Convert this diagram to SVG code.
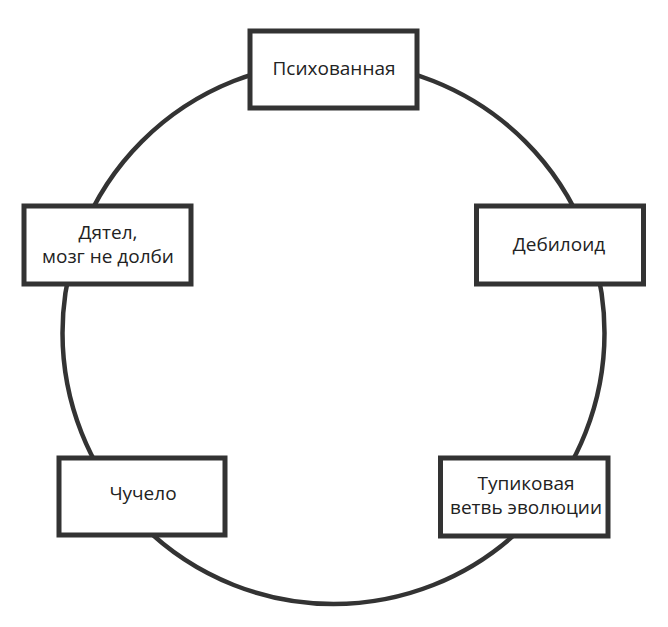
<svg xmlns="http://www.w3.org/2000/svg" width="668" height="627" viewBox="0 0 668 627">
<style>
.node rect{fill:#fff;stroke:#333;stroke-width:5}
.node text{font-family:"Open Sans","Noto Sans",sans-serif;font-size:19px;fill:#222;text-anchor:middle}
.conn{fill:none;stroke:#333;stroke-width:4.5}
</style>
<rect width="668" height="627" fill="#fff"/>
<g id="connectors">
<circle class="conn" cx="333.5" cy="333" r="271"/>
</g>
<g id="n1" class="node">
<rect x="250" y="31" width="167" height="77"/>
<text x="334" y="75">Психованная</text>
</g>
<g id="n2" class="node">
<rect x="476.5" y="206" width="167" height="78"/>
<text x="559" y="251">Дебилоид</text>
</g>
<g id="n3" class="node">
<rect x="440.5" y="458" width="167.5" height="78"/>
<text x="526" y="490">Тупиковая</text>
<text x="526" y="514">ветвь эволюции</text>
</g>
<g id="n4" class="node">
<rect x="59" y="458" width="166" height="77"/>
<text x="143" y="500">Чучело</text>
</g>
<g id="n5" class="node">
<rect x="24" y="206" width="167" height="78"/>
<text x="108" y="239">Дятел,</text>
<text x="108" y="263">мозг не долби</text>
</g>
</svg>
